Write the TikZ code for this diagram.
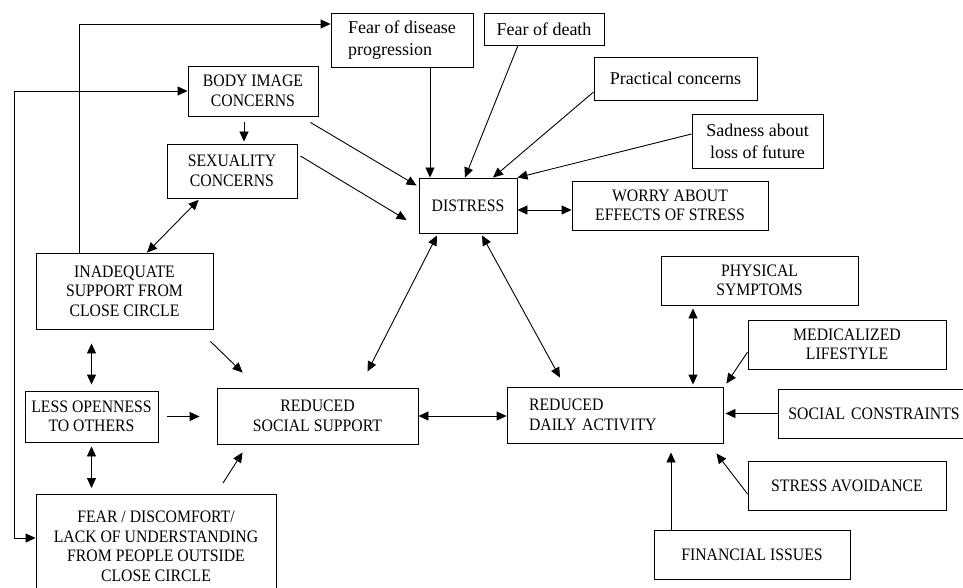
\documentclass[tikz,border=0pt]{standalone}
\usepackage{fontspec}
\setmainfont{Liberation Serif}
\newfontfamily\capfont[FakeStretch=0.9]{Liberation Serif}
\usetikzlibrary{arrows.meta}

\begin{document}
\begin{tikzpicture}[
        x=1pt, y=-1pt,
        >={Triangle[length=10pt,width=9pt]},
        capbox/.style={rectangle, draw, line width=0.9pt, align=center, inner sep=2pt, font=\capfont\fontsize{17.5}{19.5}\selectfont},
        lowbox/.style={rectangle, draw, line width=0.9pt, align=center, inner sep=2pt, font=\fontsize{18}{22}\selectfont},
        arrow/.style={->, line width=0.9pt},
        twoway/.style={<->, line width=0.9pt}
    ]
    \useasboundingbox (0,0) rectangle (963,588);

    \node[capbox, minimum width=130pt, minimum height=50pt] (body) at (253,91) {BODY IMAGE\\CONCERNS};
    \node[capbox, minimum width=130pt, minimum height=54pt] (sexuality) at (232,171) {SEXUALITY\\CONCERNS};
    \node[lowbox, align=left, minimum width=142pt, minimum height=54pt] (disease) at (402,40) {Fear of disease\\progression};
    \node[lowbox, minimum width=120pt, minimum height=32pt] (death) at (544,29) {Fear of death};
    \node[lowbox, minimum width=163pt, minimum height=43pt] (practical) at (675.5,78.5) {Practical concerns};
    \node[lowbox, minimum width=131pt, minimum height=54pt] (sadness) at (757.5,141) {Sadness about\\loss of future};
    \node[capbox, minimum width=98pt, minimum height=55pt] (distress) at (468,205.5) {DISTRESS};
    \node[capbox, minimum width=196pt, minimum height=49pt] (worry) at (670,205.5) {WORRY ABOUT\\EFFECTS OF STRESS};
    \node[capbox, minimum width=177pt, minimum height=76pt] (inadequate) at (124.5,291) {INADEQUATE\\SUPPORT FROM\\CLOSE CIRCLE};
    \node[capbox, minimum width=133pt, minimum height=51pt] (openness) at (91.5,416.5) {LESS OPENNESS\\TO OTHERS};
    \node[capbox, anchor=north, minimum width=240pt, minimum height=104pt] (outside) at (156,494) {FEAR / DISCOMFORT/\\LACK OF UNDERSTANDING\\FROM PEOPLE OUTSIDE\\CLOSE CIRCLE};
    \node[capbox, minimum width=201pt, minimum height=56pt] (support) at (317.5,416) {REDUCED\\SOCIAL SUPPORT};
    \node[capbox, align=left, text width=172pt, inner xsep=22pt, minimum height=56pt] (activity) at (615,415) {REDUCED\\DAILY ACTIVITY};
    \node[capbox, minimum width=197pt, minimum height=49pt] (physical) at (759.5,280.5) {PHYSICAL\\SYMPTOMS};
    \node[capbox, minimum width=198pt, minimum height=49pt] (lifestyle) at (847,344.5) {MEDICALIZED\\LIFESTYLE};
    \node[capbox, anchor=west, align=left, text width=210pt, inner xsep=10pt, minimum height=49pt] (constraints) at (778,413.5) {SOCIAL CONSTRAINTS};
    \node[capbox, minimum width=198pt, minimum height=49pt] (avoidance) at (847,485.5) {STRESS AVOIDANCE};
    \node[capbox, minimum width=196pt, minimum height=49pt] (financial) at (752,554.5) {FINANCIAL ISSUES};

    \coordinate (topline) at (79,24);
    \coordinate (leftline) at (14,538);

    \draw[arrow] (inadequate.north -| topline) |- (disease.west |- topline);
    \draw[twoway] (body.west) -| (leftline) -- (outside.west |- leftline);
    \draw[arrow, shorten <=6pt, shorten >=2pt] ([xshift=-9pt]body.south) -- ([xshift=-9pt]body.south |- sexuality.north);
    \draw[twoway, shorten <=2pt] ([xshift=-32pt]sexuality.south) -- ([xshift=22.5pt]inadequate.north);
    \draw[arrow] ([shift={(-8pt,-6pt)}]body.south east) -- ([shift={(-2pt,-8pt)}]distress.north west);
    \draw[arrow] ([shift={(3pt,15pt)}]sexuality.east) -- ([shift={(-12pt,-14.5pt)}]distress.west);
    \draw[arrow] ([xshift=28pt]disease.south) -- ([xshift=28pt]disease.south |- distress.north);
    \draw[arrow] ([xshift=-26pt]death.south) -- ([xshift=-3pt]distress.north);
    \draw[arrow] ([yshift=-13.5pt]practical.west) -- ([xshift=25pt]distress.north);
    \draw[arrow] ([yshift=7pt]sadness.west) -- (distress.north east);
    \draw[twoway] ([yshift=-4.5pt]distress.east) -- ([yshift=-4.5pt]distress.east -| worry.west);
    \draw[twoway] ([shift={(-31pt,-2pt)}]distress.south) -- ([shift={(50pt,16pt)}]support.north);
    \draw[twoway] ([shift={(14pt,-2pt)}]distress.south) -- ([shift={(-55pt,9pt)}]activity.north);
    \draw[arrow] ([shift={(-3pt,-12pt)}]inadequate.south east) -- ([shift={(26pt,15pt)}]support.north west);
    \draw[twoway, shorten <=14pt, shorten >=6pt] (openness.north |- inadequate.south) -- (openness.north);
    \draw[arrow, shorten <=9pt, shorten >=17pt] (openness.east) -- (openness.east -| support.west);
    \draw[twoway, shorten <=4pt, shorten >=6pt] (openness.south) -- (openness.south |- outside.north);
    \draw[arrow] ([shift={(67pt,11pt)}]outside.north) -- ([shift={(26pt,-8pt)}]support.south west);
    \draw[twoway] (support.east) -- (support.east -| activity.west);
    \draw[twoway, shorten <=3pt, shorten >=2pt] ([xshift=78pt]activity.north |- physical.south) -- ([xshift=78pt]activity.north);
    \draw[arrow] ([yshift=-7.5pt]lifestyle.west) -- ([shift={(3pt,3pt)}]activity.north east);
    \draw[arrow, shorten >=2pt] (constraints.west) -- (constraints.west -| activity.east);
    \draw[arrow] ([yshift=-8.5pt]avoidance.west) -- ([shift={(-7pt,-10pt)}]activity.south east);
    \draw[arrow, shorten >=9pt] ([xshift=-81pt]financial.north) -- ([xshift=-81pt]financial.north |- activity.south);
\end{tikzpicture}
\end{document}
